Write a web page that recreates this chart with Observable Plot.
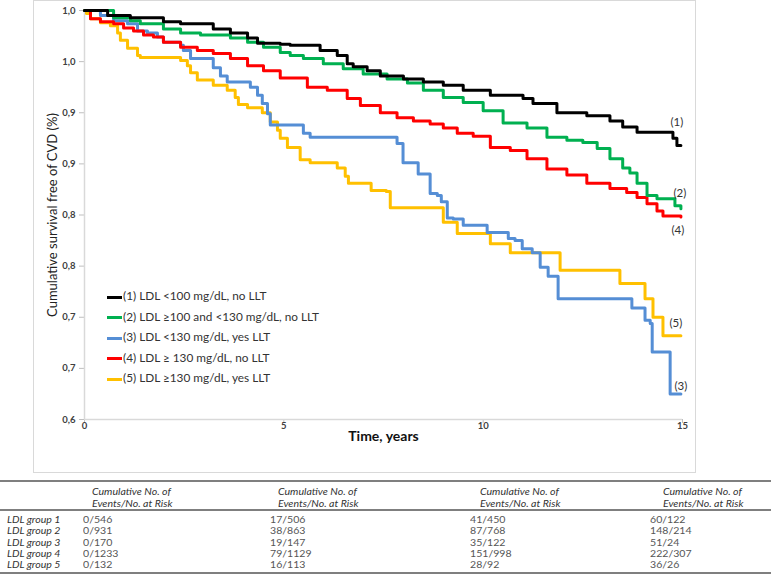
<!DOCTYPE html>
<html><head><meta charset="utf-8">
<script src="https://cdn.jsdelivr.net/npm/d3@7"></script>
<script src="https://cdn.jsdelivr.net/npm/@observablehq/plot@0.6"></script>
<style>
body{margin:0;background:#fff;font-family:Lato,"Open Sans",sans-serif;}
#wrap{position:relative;width:771px;height:582px;overflow:hidden;}
#frame{position:absolute;left:33px;top:0px;width:663px;height:473px;border:1.5px solid #d9d9d9;box-sizing:border-box;}
#chart{position:absolute;left:0;top:0;}
#legend{position:absolute;left:107px;top:286px;font-size:11.8px;color:#333;}
.lrow{position:relative;height:20.5px;line-height:20.5px;white-space:nowrap;}
.lsw{display:inline-block;width:15px;height:3px;vertical-align:middle;margin-right:1px;}
.cell{position:absolute;white-space:nowrap;font-size:9.2px;line-height:10px;height:10px;transform:scaleX(1.15);transform-origin:0 50%;}
.hline{position:absolute;left:0;width:771px;background:#7f7f7f;}
</style></head>
<body><div id="wrap"><div id="frame"></div><div id="chart"></div><div id="legend"></div><div id="table"></div></div>
<script>
// ---- data ----
const groupNames = ["(1)", "(2)", "(3)", "(4)", "(5)"];
const legendLabels = [
  "(1) LDL <100 mg/dL, no LLT",
  "(2) LDL \u2265100 and <130 mg/dL, no LLT",
  "(3) LDL <130 mg/dL, yes LLT",
  "(4) LDL \u2265 130 mg/dL, no LLT",
  "(5) LDL \u2265130 mg/dL, yes LLT"
];
const yTicks = [0.6, 0.65, 0.7, 0.75, 0.8, 0.85, 0.9, 0.95, 1.0];
const yTickLabels = ["0,6", "0,7", "0,7", "0,8", "0,8", "0,9", "0,9", "1,0", "1,0"];
const xTicks = [0, 5, 10, 15];

const ldl1 = [[0,1],[0.58,0.995],[1.15,0.993],[1.98,0.989],[2.41,0.987],[3.23,0.982],[3.66,0.978],[4.09,0.973],[4.34,0.968],[4.91,0.967],[5.16,0.966],[5.91,0.961],[6.34,0.956],[6.59,0.948],[6.74,0.945],[7.09,0.941],[7.42,0.936],[8.0,0.933],[8.5,0.930],[9.0,0.927],[9.5,0.922],[10.18,0.917],[11.0,0.914],[11.25,0.909],[11.85,0.900],[12.6,0.897],[13.18,0.892],[13.5,0.886],[13.86,0.881],[14.76,0.875],[14.86,0.868],[14.96,0.868]];
const ldl2 = [[0,1],[0.73,0.993],[1.15,0.990],[1.40,0.987],[1.98,0.982],[2.41,0.978],[2.91,0.976],[3.66,0.973],[4.09,0.969],[4.49,0.964],[4.91,0.959],[5.16,0.956],[5.49,0.953],[5.99,0.948],[6.49,0.943],[6.99,0.938],[7.59,0.933],[8.10,0.929],[8.50,0.922],[9.0,0.915],[9.5,0.910],[10.0,0.902],[10.5,0.890],[11.1,0.885],[11.6,0.876],[12.1,0.873],[12.5,0.871],[12.86,0.865],[13.18,0.855],[13.5,0.846],[13.68,0.841],[13.86,0.831],[14.11,0.819],[14.36,0.816],[14.81,0.809],[14.96,0.806]];
const ldl3 = [[0,1],[0.40,0.995],[0.73,0.990],[1.08,0.987],[1.33,0.980],[1.58,0.978],[1.83,0.974],[1.98,0.969],[2.41,0.966],[2.48,0.961],[2.66,0.953],[3.23,0.944],[3.41,0.936],[3.58,0.930],[4.16,0.925],[4.34,0.917],[4.46,0.909],[4.59,0.899],[4.66,0.888],[5.49,0.880],[5.66,0.876],[7.84,0.870],[7.99,0.851],[8.37,0.840],[8.67,0.821],[8.85,0.819],[8.95,0.813],[9.10,0.797],[9.25,0.796],[9.50,0.790],[10.1,0.783],[10.63,0.777],[10.8,0.775],[10.98,0.767],[11.23,0.763],[11.43,0.749],[11.63,0.740],[11.88,0.718],[13.73,0.709],[14.06,0.697],[14.19,0.694],[14.24,0.666],[14.69,0.625],[14.96,0.625]];
const ldl4 = [[0,1],[0.15,0.992],[0.40,0.989],[0.73,0.987],[0.98,0.983],[1.23,0.980],[1.48,0.976],[1.73,0.974],[1.98,0.969],[2.41,0.964],[2.83,0.961],[3.23,0.958],[3.66,0.953],[4.09,0.946],[4.49,0.941],[4.91,0.934],[5.59,0.925],[6.09,0.922],[6.59,0.914],[6.92,0.907],[7.42,0.900],[7.84,0.895],[8.25,0.892],[8.67,0.889],[9.0,0.885],[9.35,0.880],[9.75,0.877],[10.18,0.866],[10.68,0.863],[11.1,0.855],[11.6,0.845],[12.1,0.839],[12.6,0.831],[13.18,0.826],[13.6,0.822],[13.86,0.817],[14.11,0.811],[14.36,0.804],[14.51,0.799],[14.96,0.798]];
const ldl5 = [[0,1],[0.05,0.997],[0.15,0.992],[0.40,0.988],[0.65,0.985],[0.83,0.978],[0.90,0.971],[1.08,0.963],[1.33,0.956],[1.40,0.954],[2.41,0.951],[2.58,0.946],[2.66,0.939],[2.83,0.932],[3.23,0.927],[3.58,0.922],[3.78,0.915],[3.86,0.908],[4.09,0.905],[4.46,0.900],[4.66,0.891],[4.84,0.883],[4.91,0.875],[5.09,0.866],[5.41,0.854],[5.66,0.851],[6.34,0.846],[6.54,0.838],[6.62,0.831],[7.19,0.824],[7.57,0.823],[7.67,0.807],[9.0,0.793],[9.35,0.782],[10.18,0.772],[10.68,0.763],[11.93,0.746],[13.43,0.733],[14.06,0.718],[14.26,0.700],[14.51,0.682],[14.96,0.682]];

const tableRowLabels = ["LDL group 1", "LDL group 2", "LDL group 3", "LDL group 4", "LDL group 5"];
const tableHeader = ["Cumulative No. of", "Events/No. at Risk"];
const tableYear0 = ["0/546", "0/931", "0/170", "0/1233", "0/132"];
const tableYear5 = ["17/506", "38/863", "19/147", "79/1129", "16/113"];
const tableYear10 = ["41/450", "87/768", "35/122", "151/998", "28/92"];
const tableYear15 = ["60/122", "148/214", "51/24", "222/307", "36/26"];

// ---- styles ----
const seriesData = [ldl1, ldl2, ldl3, ldl4, ldl5];
const colors = ["#000000", "#00b050", "#558ed5", "#ff0000", "#ffc000"];
const labelDy = [-23, -16, -8, 13, -12];
const labelDx = [-4, -1, 0, -3, -5];

const lineMarks = [];
const drawOrder = [4, 2, 3, 1, 0];
for (const i of drawOrder) {
  lineMarks.push(Plot.line(seriesData[i], {x: d => d[0], y: d => d[1], curve: "step-after", stroke: colors[i], strokeWidth: 3}));
}
const labelMarks = seriesData.map((s, i) => Plot.text([s[s.length - 1]], {
  x: d => d[0], y: d => d[1], text: () => groupNames[i], dx: labelDx[i], dy: labelDy[i],
  fontSize: 11.5, fill: "#333"
}));

const chart = Plot.plot({
  width: 771, height: 475,
  marginLeft: 84, marginRight: 89, marginTop: 10, marginBottom: 56,
  x: {domain: [0, 15]},
  y: {domain: [0.6, 1.0]},
  style: {fontFamily: "Lato, 'Open Sans', sans-serif", background: "transparent", overflow: "visible"},
  marks: [
    Plot.axisY({ticks: yTicks, tickSize: 5, tickFormat: () => "", color: "#bfbfbf", label: null}),
    Plot.axisY({ticks: yTicks, tickSize: 0, tickPadding: 9, label: null, fontSize: 9.5, fontWeight: "bold", color: "#404040",
      tickFormat: d => yTickLabels[yTicks.findIndex(v => Math.abs(v - d) < 1e-9)]}),
    Plot.axisX({ticks: xTicks, tickSize: 4, tickFormat: () => "", color: "#bfbfbf", label: null}),
    Plot.axisX({ticks: xTicks, tickSize: 0, tickPadding: 3, label: null, fontSize: 9.5, fontWeight: "bold", color: "#404040"}),
    Plot.ruleY([0.6], {stroke: "#d9d9d9", strokeWidth: 1.5}),
    Plot.ruleX([0], {stroke: "#d9d9d9", strokeWidth: 1.5}),
    ...lineMarks,
    ...labelMarks,
    Plot.text(["Cumulative survival free of CVD (%)"], {frameAnchor: "left", textAnchor: "middle", dx: -32, rotate: -90, fontSize: 13, fill: "#222"}),
    Plot.text(["Time, years"], {frameAnchor: "bottom", dy: 21, fontSize: 14, fontWeight: "bold", fill: "#111"})
  ]
});
document.getElementById("chart").appendChild(chart);

// legend
const lg = document.getElementById("legend");
legendLabels.forEach((t, i) => {
  const r = document.createElement("div");
  r.className = "lrow";
  r.innerHTML = `<span class="lsw" style="background:${colors[i]}"></span>${t}`;
  lg.appendChild(r);
});

// table
const tb = document.getElementById("table");
function addLine(y, h) { const d = document.createElement("div"); d.className = "hline"; d.style.top = y + "px"; d.style.height = h + "px"; tb.appendChild(d); }
function addCell(x, yc, text, style) {
  const d = document.createElement("div"); d.className = "cell"; d.style.left = x + "px"; d.style.top = (yc - 5) + "px";
  d.textContent = text; Object.assign(d.style, style || {}); tb.appendChild(d);
}
addLine(480, 2); addLine(509, 1.5); addLine(572, 2);
const headerX = [92, 278, 480, 663];
const valueX = [83, 270, 470, 650];
const headerY = [492, 504];
const rowY = [520, 531.3, 542.6, 553.9, 565.2];
headerX.forEach(x => tableHeader.forEach((h, j) => addCell(x, headerY[j], h, {fontStyle: "italic", color: "#333"})));
const cols = [tableYear0, tableYear5, tableYear10, tableYear15];
tableRowLabels.forEach((l, r) => {
  addCell(7, rowY[r], l, {fontStyle: "italic", color: "#333"});
  cols.forEach((c, k) => addCell(valueX[k], rowY[r], c[r], {color: "#555"}));
});
</script></body></html>
